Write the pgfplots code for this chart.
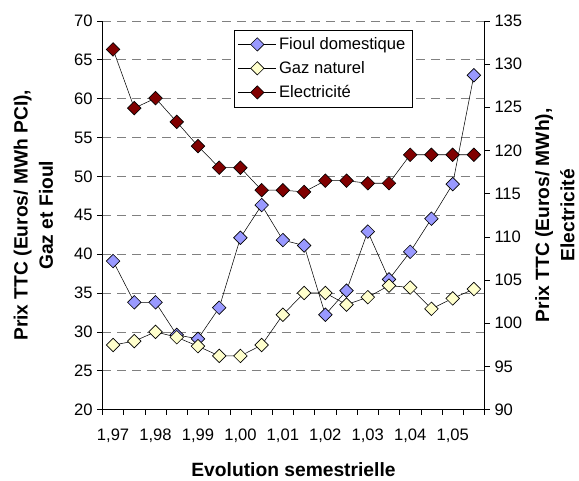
\documentclass[border=0pt]{standalone}
\usepackage{pgfplots}
\pgfplotsset{compat=1.18}
\usepackage{fontspec}
\setmainfont{Liberation Sans}
\definecolor{fioul}{RGB}{153,153,255}
\definecolor{gaz}{RGB}{255,255,204}
\definecolor{elec}{RGB}{128,0,0}
\definecolor{gridgray}{RGB}{128,128,128}
\pgfplotsset{
  common/.style={
    scale only axis, width=288pt, height=293pt,
    xmin=-0.5, xmax=17.5,
    tick align=outside,
    tick style={black, thin},
    major tick length=4pt,
    minor tick length=4pt,
    tick label style={font=\fontsize{12.5}{14}\selectfont},
    label style={font=\fontsize{14.5}{19}\selectfont\bfseries, align=center},
    /pgf/number format/assume math mode=true,
    axis line style={black, thin},
  },
  dmark/.style={mark=square*, mark size=3.6pt, mark options={rotate=45, draw=black, fill=#1, solid, line width=0.5pt}},
}
\begin{document}
\begin{tikzpicture}
\begin{axis}[common, name=ax,
  axis x line*=bottom, axis y line*=left,
  ymin=20, ymax=70, ytick={20,25,...,70},
  xtick={0,2,...,16},
  xticklabels={{1,97},{1,98},{1,99},{1,00},{1,01},{1,02},{1,03},{1,04},{1,05}},
  major x tick style={draw=none},
  minor xtick={-0.5,0.5,...,17.5},
  xticklabel style={yshift=-7pt},
  ymajorgrids,
  grid style={gridgray, dash pattern=on 6.75pt off 4.5pt, thin},
  xlabel={Evolution semestrielle},
  ylabel={Prix TTC (Euros/ MWh PCI),\\Gaz et Fioul},
  xlabel style={yshift=-8pt},
  ylabel style={yshift=9pt},
]
% Fioul domestique
\addplot[black, thin, dmark=fioul] coordinates {
(0,39.1) (1,33.8) (2,33.8) (3,29.6) (4,29.1) (5,33.1) (6,42.1) (7,46.3) (8,41.8)
(9,41.1) (10,32.2) (11,35.3) (12,42.9) (13,36.75) (14,40.3) (15,44.55) (16,49.0) (17,63.0)};
% Gaz naturel
\addplot[black, thin, dmark=gaz] coordinates {
(0,28.3) (1,28.8) (2,30.0) (3,29.3) (4,28.15) (5,26.9) (6,26.9) (7,28.3) (8,32.2)
(9,35.0) (10,35.0) (11,33.5) (12,34.45) (13,35.95) (14,35.7) (15,32.96) (16,34.3) (17,35.5)};
\end{axis}
\begin{axis}[common,
  axis y line*=right, axis x line=none,
  ymin=90, ymax=135, ytick={90,95,...,135},
  ylabel={Prix TTC (Euros/ MWh),\\Electricité},
  ylabel style={yshift=-3pt},
  legend style={at={(0.344,0.977)}, anchor=north west, draw=black, thin,
    font=\fontsize{12.5}{14}\selectfont, row sep=3.5pt,
    inner xsep=3pt, inner ysep=3.5pt},
  legend cell align=left,
  legend image code/.code={
    \draw[black, thin] (0cm,0cm) -- (1.0cm,0cm);
    \draw[black, line width=0.5pt, fill=\pgfkeysvalueof{/pgfplots/legfill}] (0.5cm,-5pt) -- (0.5cm+5pt,0cm) -- (0.5cm,5pt) -- (0.5cm-5pt,0cm) -- cycle;
  },
  /pgfplots/legfill/.initial=white,
]
\addlegendimage{/pgfplots/legfill=fioul}
\addlegendentry{Fioul domestique}
\addlegendimage{/pgfplots/legfill=gaz}
\addlegendentry{Gaz naturel}
% Electricite
\addplot[black, thin, dmark=elec, /pgfplots/legfill=elec] coordinates {
(0,131.7) (1,124.9) (2,126.05) (3,123.3) (4,120.5) (5,118.0) (6,118.0) (7,115.4) (8,115.4)
(9,115.2) (10,116.5) (11,116.5) (12,116.2) (13,116.2) (14,119.5) (15,119.5) (16,119.5) (17,119.5)};
\addlegendentry{Electricité}
\end{axis}
\path (ax.south west) ++(-77.25pt,-50.25pt) coordinate (bbsw);
\path (ax.north east) ++(69pt,15.75pt) coordinate (bbne);
\path (bbsw) rectangle (bbne);
\end{tikzpicture}
\end{document}
